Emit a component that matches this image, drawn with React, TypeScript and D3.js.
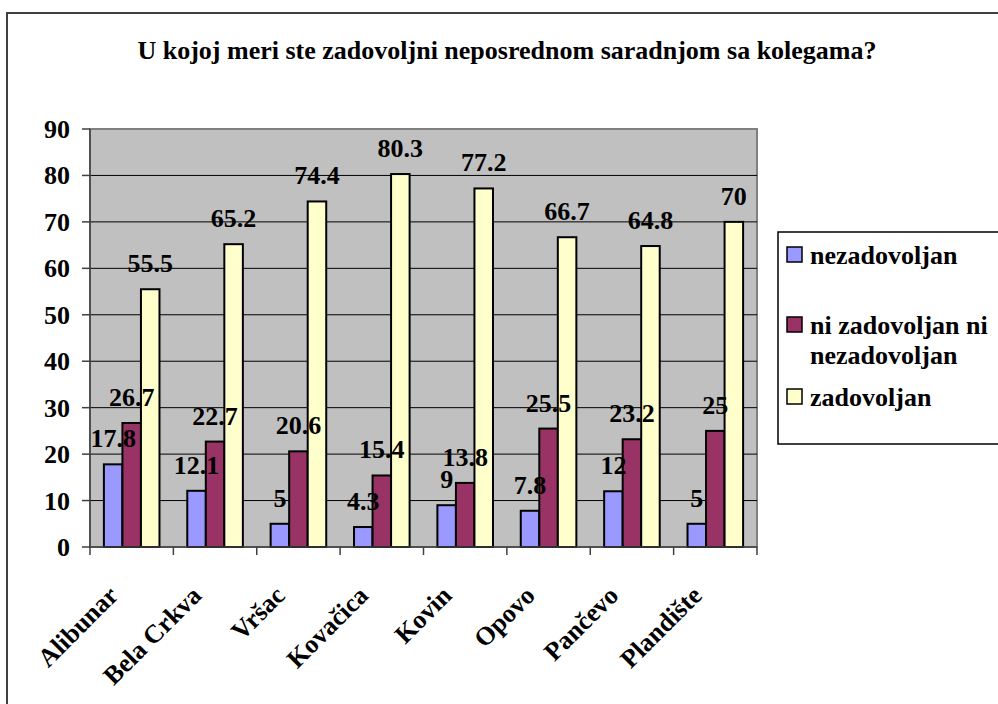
import React from "react";
import * as d3 from "d3";

const categories = ["Alibunar", "Bela Crkva", "Vršac", "Kovačica", "Kovin", "Opovo", "Pančevo", "Plandište"];
const seriesNames = ["nezadovoljan", "ni zadovoljan ni nezadovoljan", "zadovoljan"];
const nezadovoljan = [17.8, 12.1, 5, 4.3, 9, 7.8, 12, 5];
const niNi = [26.7, 22.7, 20.6, 15.4, 13.8, 25.5, 23.2, 25];
const zadovoljan = [55.5, 65.2, 74.4, 80.3, 77.2, 66.7, 64.8, 70];
const yTicks = [0, 10, 20, 30, 40, 50, 60, 70, 80, 90];
const colors = ["#9999ff", "#993366", "#ffffcc"];
const title = "U kojoj meri ste zadovoljni neposrednom saradnjom sa kolegama?";

const W = 998, H = 704;
const plot = { left: 90, right: 757, top: 129, bottom: 547 };
const FS = 26;
const FF = "Liberation Serif";

export default function App() {
  const series = [nezadovoljan, niNi, zadovoljan];
  const x = d3.scaleBand<string>().domain(categories).range([plot.left, plot.right]).paddingInner(0).paddingOuter(0);
  const y = d3.scaleLinear().domain([0, 90]).range([plot.bottom, plot.top]);
  const band = x.bandwidth();
  const barW = band / 4.5;
  const groupOffset = (band - 3 * barW) / 2;

  const boundaries = d3.range(categories.length + 1).map(i => plot.left + i * band);

  const legendItems = [
    { k: 0, sy: 247, lines: [seriesNames[0]], ty: 264 },
    { k: 1, sy: 317, lines: ["ni zadovoljan ni", "nezadovoljan"], ty: 334 },
    { k: 2, sy: 389, lines: [seriesNames[2]], ty: 406 },
  ];

  return (
    <svg width={W} height={H} style={{ position: "absolute", left: 0, top: 0 }}>
      <rect x={0} y={0} width={W} height={H} fill="#ffffff" />
      <rect x={7} y={13} width={W + 10} height={H + 10} fill="none" stroke="#404040" strokeWidth={2} />
      <text x={507} y={59} textAnchor="middle" fontSize={FS} fontWeight="bold" fontFamily={FF}>{title}</text>

      {/* plot area */}
      <rect x={plot.left} y={plot.top} width={plot.right - plot.left} height={plot.bottom - plot.top} fill="#c0c0c0" stroke="#808080" strokeWidth={2} />
      {yTicks.filter(t => t > 0 && t < 90).map(t => (
        <line key={t} x1={plot.left} x2={plot.right} y1={y(t)} y2={y(t)} stroke="#000" strokeWidth={1} />
      ))}

      {/* bars */}
      {categories.map((c, i) => (
        <g key={c}>
          {series.map((s, k) => {
            const bx = (x(c) as number) + groupOffset + k * barW;
            return (
              <rect key={k} x={bx} y={y(s[i])} width={barW} height={y(0) - y(s[i])} fill={colors[k]} stroke="#000" strokeWidth={2} />
            );
          })}
        </g>
      ))}

      {/* axes */}
      <line x1={plot.left} x2={plot.left} y1={plot.top} y2={plot.bottom} stroke="#404040" strokeWidth={1.5} />
      <line x1={plot.left} x2={plot.right} y1={plot.bottom} y2={plot.bottom} stroke="#404040" strokeWidth={1.5} />
      {yTicks.map(t => (
        <g key={t}>
          <line x1={plot.left - 8} x2={plot.left} y1={y(t)} y2={y(t)} stroke="#404040" strokeWidth={1.5} />
          <text x={70} y={y(t) + 9} textAnchor="end" fontSize={FS} fontWeight="bold" fontFamily={FF}>{t}</text>
        </g>
      ))}
      {boundaries.map((bx, i) => (
        <line key={i} x1={bx} x2={bx} y1={plot.bottom} y2={plot.bottom + 8} stroke="#404040" strokeWidth={1.5} />
      ))}
      {categories.map(c => {
        const cx = (x(c) as number) + band / 2;
        return (
          <text key={c} transform={`translate(${cx - 12},${plot.bottom + 50}) rotate(-45)`} textAnchor="end" fontSize={FS} fontWeight="bold" fontFamily={FF}>{c}</text>
        );
      })}

      {/* data labels */}
      {categories.map((c, i) => (
        <g key={c}>
          {series.map((s, k) => {
            const bx = (x(c) as number) + groupOffset + k * barW + barW / 2;
            return (
              <text key={k} x={bx} y={y(s[i]) - 17} textAnchor="middle" fontSize={FS} fontWeight="bold" fontFamily={FF}>{String(s[i])}</text>
            );
          })}
        </g>
      ))}

      {/* legend */}
      <rect x={778} y={232} width={240} height={212} fill="#fff" stroke="#000" strokeWidth={1.5} />
      {legendItems.map(item => (
        <g key={item.k}>
          <rect x={787} y={item.sy} width={15} height={15} fill={colors[item.k]} stroke="#000" strokeWidth={1.5} />
          {item.lines.map((ln, j) => (
            <text key={j} x={810} y={item.ty + j * 30} fontSize={FS} fontWeight="bold" fontFamily={FF}>{ln}</text>
          ))}
        </g>
      ))}
    </svg>
  );
}
